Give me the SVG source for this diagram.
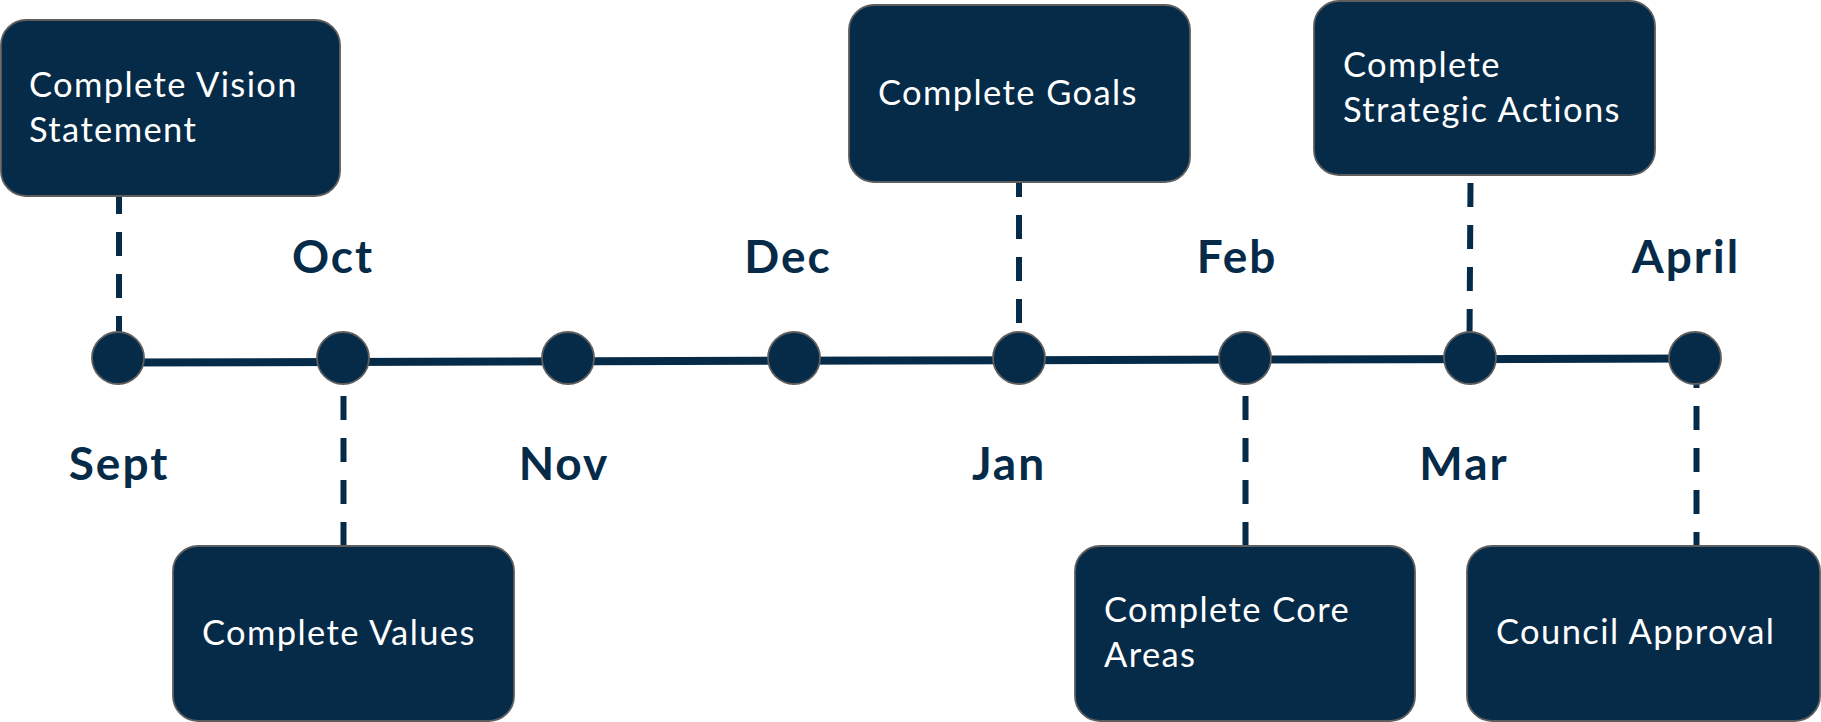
<svg xmlns="http://www.w3.org/2000/svg" width="1821" height="722" viewBox="0 0 1821 722">
<style>
.box{fill:#062b48;stroke:#5e5e5e;stroke-width:1.8}
.dot{fill:#062b48;stroke:#5e5e5e;stroke-width:1.8}
.lbl{font-family:Lato,"Liberation Sans",sans-serif;font-size:34.5px;letter-spacing:1.4px;fill:#ffffff}
.mon{font-family:Lato,"Liberation Sans",sans-serif;font-size:46px;font-weight:bold;letter-spacing:2px;fill:#062b48;text-anchor:middle}
.dash{stroke:#062b48;stroke-width:6;stroke-dasharray:24 18;fill:none}
</style>
<rect width="1821" height="722" fill="#ffffff"/>
<g id="connectors">
<line class="dash" x1="119" y1="340" x2="119" y2="196"/>
<line class="dash" x1="343.5" y1="396" x2="343.5" y2="546"/>
<line class="dash" x1="1019" y1="323" x2="1019" y2="182"/>
<line class="dash" x1="1470.5" y1="183" x2="1469.5" y2="340"/>
<line class="dash" x1="1245.5" y1="396" x2="1245.5" y2="546"/>
<line class="dash" x1="1696.5" y1="364" x2="1696.5" y2="546"/>
<line x1="118" y1="362.5" x2="1695" y2="358.5" stroke="#062b48" stroke-width="8"/>
</g>
<g id="timeline">
<circle class="dot" cx="118" cy="358" r="26"/>
<circle class="dot" cx="343" cy="358" r="26"/>
<circle class="dot" cx="568" cy="358" r="26"/>
<circle class="dot" cx="794" cy="358" r="26"/>
<circle class="dot" cx="1019" cy="358" r="26"/>
<circle class="dot" cx="1245" cy="358" r="26"/>
<circle class="dot" cx="1470" cy="358" r="26"/>
<circle class="dot" cx="1695" cy="358" r="26"/>
</g>
<g id="months">
<text class="mon" x="119" y="480">Sept</text>
<text class="mon" x="333" y="273">Oct</text>
<text class="mon" x="564" y="480">Nov</text>
<text class="mon" x="788" y="273">Dec</text>
<text class="mon" x="1009" y="480">Jan</text>
<text class="mon" x="1237" y="273">Feb</text>
<text class="mon" x="1464" y="480">Mar</text>
<text class="mon" x="1686" y="273">April</text>
</g>
<g id="node-vision">
<rect class="box" x="1" y="20" width="339" height="176" rx="25"/>
<text class="lbl" x="29" y="97">Complete Vision</text>
<text class="lbl" x="29" y="142">Statement</text>
</g>
<g id="node-values">
<rect class="box" x="173" y="546" width="341" height="175" rx="25"/>
<text class="lbl" x="202" y="645">Complete Values</text>
</g>
<g id="node-goals">
<rect class="box" x="849" y="5" width="341" height="177" rx="25"/>
<text class="lbl" x="878" y="105">Complete Goals</text>
</g>
<g id="node-strategic">
<rect class="box" x="1314" y="1" width="341" height="174" rx="25"/>
<text class="lbl" x="1343" y="77">Complete</text>
<text class="lbl" x="1343" y="122">Strategic Actions</text>
</g>
<g id="node-core">
<rect class="box" x="1075" y="546" width="340" height="175" rx="25"/>
<text class="lbl" x="1104" y="622">Complete Core</text>
<text class="lbl" x="1104" y="667">Areas</text>
</g>
<g id="node-council">
<rect class="box" x="1467" y="546" width="353" height="175" rx="25"/>
<text class="lbl" x="1496" y="644">Council Approval</text>
</g>
</svg>
